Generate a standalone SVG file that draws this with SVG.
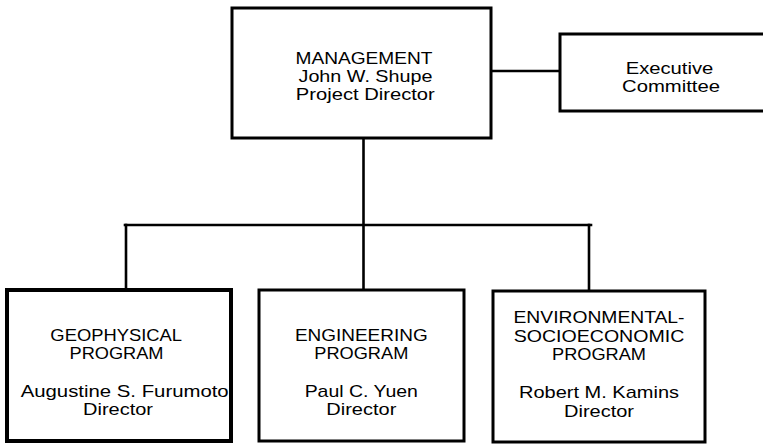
<svg xmlns="http://www.w3.org/2000/svg" width="763" height="444" viewBox="0 0 763 444">
  <style>
    .box { fill: #ffffff; stroke: #000000; stroke-width: 3; }
    .heavy { stroke-width: 4; }
    .link { fill: none; stroke: #000000; stroke-width: 2.6; stroke-linecap: square; }
    text { font-family: "Liberation Sans", Arial, Helvetica, sans-serif; font-size: 17px; fill: #000000; text-anchor: middle; }
  </style>
  <rect width="763" height="444" fill="#ffffff"/>

  <!-- connectors -->
  <g id="connectors">
    <line class="link" x1="491" y1="71" x2="560" y2="71"/>
    <line class="link" x1="363.5" y1="138" x2="363.5" y2="290"/>
    <line class="link" x1="125" y1="225" x2="591" y2="225"/>
    <line class="link" x1="126" y1="225" x2="126" y2="290"/>
    <line class="link" x1="589" y1="225" x2="589" y2="291"/>
  </g>

  <!-- top level -->
  <g id="management">
    <rect class="box" x="232" y="8" width="259" height="130"/>
    <text x="364" y="63.5" textLength="137" lengthAdjust="spacingAndGlyphs">MANAGEMENT</text>
    <text x="365.5" y="81.5" textLength="134" lengthAdjust="spacingAndGlyphs">John W. Shupe</text>
    <text x="365.3" y="99.5" textLength="139" lengthAdjust="spacingAndGlyphs">Project Director</text>
  </g>

  <g id="executive-committee">
    <rect class="box" x="560" y="34" width="215" height="77"/>
    <text x="669.5" y="74" textLength="87.7" lengthAdjust="spacingAndGlyphs">Executive</text>
    <text x="671" y="92" textLength="98" lengthAdjust="spacingAndGlyphs">Committee</text>
  </g>

  <!-- programs -->
  <g id="geophysical">
    <rect class="box heavy" x="7" y="290" width="224" height="151"/>
    <text x="116.2" y="340.5" textLength="131.7" lengthAdjust="spacingAndGlyphs">GEOPHYSICAL</text>
    <text x="116.5" y="358.5" textLength="94" lengthAdjust="spacingAndGlyphs">PROGRAM</text>
    <text x="124.7" y="397" textLength="208" lengthAdjust="spacingAndGlyphs">Augustine S. Furumoto</text>
    <text x="118" y="415" textLength="70" lengthAdjust="spacingAndGlyphs">Director</text>
  </g>

  <g id="engineering">
    <rect class="box" x="259" y="290" width="205" height="151"/>
    <text x="361.3" y="340.5" textLength="132.7" lengthAdjust="spacingAndGlyphs">ENGINEERING</text>
    <text x="361.3" y="358.5" textLength="94" lengthAdjust="spacingAndGlyphs">PROGRAM</text>
    <text x="361.3" y="397" textLength="113.3" lengthAdjust="spacingAndGlyphs">Paul C. Yuen</text>
    <text x="361.3" y="415" textLength="70" lengthAdjust="spacingAndGlyphs">Director</text>
  </g>

  <g id="environmental-socioeconomic">
    <rect class="box" x="493" y="291" width="212" height="151"/>
    <text x="599" y="323.3" textLength="171" lengthAdjust="spacingAndGlyphs">ENVIRONMENTAL-</text>
    <text x="599" y="341.7" textLength="170.7" lengthAdjust="spacingAndGlyphs">SOCIOECONOMIC</text>
    <text x="599" y="360" textLength="94" lengthAdjust="spacingAndGlyphs">PROGRAM</text>
    <text x="599" y="398" textLength="160" lengthAdjust="spacingAndGlyphs">Robert M. Kamins</text>
    <text x="599" y="416.7" textLength="70" lengthAdjust="spacingAndGlyphs">Director</text>
  </g>
</svg>
